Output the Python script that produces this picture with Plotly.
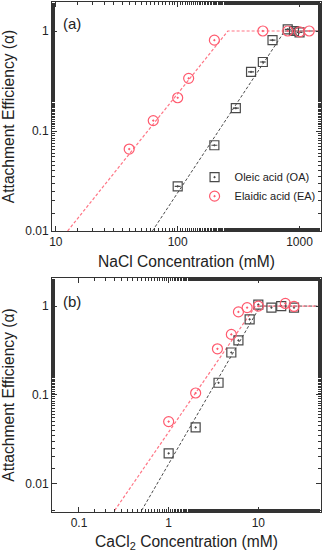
import numpy as np
import plotly.graph_objects as go
from plotly.subplots import make_subplots

# (a) NaCl
nacl_oa_x = [100, 200, 300, 400, 500, 600, 800, 900, 1000]
nacl_oa_y = [0.028, 0.072, 0.169, 0.39, 0.49, 0.81, 1.04, 1.0, 0.97]
nacl_oa_err = [0, 0, 0, 0, 0, 0, 0, 0.07, 0]
nacl_ea_x = [40, 63, 100, 123, 200, 500, 800, 1000, 1200]
nacl_ea_y = [0.066, 0.127, 0.215, 0.336, 0.81, 1.0, 1.0, 0.98, 1.0]

nacl_oa_fit_x = [62, 755, 1500]
nacl_oa_fit_y = [0.01, 1, 1]
nacl_ea_fit_x = [12.5, 258, 1500]
nacl_ea_fit_y = [0.01, 1, 1]

# (b) CaCl2
cacl_oa_x = [1, 2, 3.6, 5, 6, 8, 10, 14, 18, 25]
cacl_oa_y = [0.022, 0.043, 0.137, 0.30, 0.41, 0.71, 1.04, 0.96, 1.0, 0.96]
cacl_ea_x = [1, 2, 3.5, 5, 6, 7.5, 10, 20, 25]
cacl_ea_y = [0.05, 0.105, 0.33, 0.48, 0.86, 0.96, 1.0, 1.07, 0.99]

cacl_oa_fit_x = [0.5, 10.5, 50]
cacl_oa_fit_y = [0.005, 1, 1]
cacl_ea_fit_x = [0.25, 9.3, 50]
cacl_ea_fit_y = [0.005, 1, 1]

GRAY = '#4a4a4a'
RED = '#ff5a6e'
RED_LINE = '#ff7585'
FONT = 'Liberation Sans, Arial, sans-serif'

fig = make_subplots(rows=2, cols=1)

def add_panel(row, fx_oa, fy_oa, fx_ea, fy_ea, ox, oy, ex, ey, err=None, legend=False):
    fig.add_trace(go.Scatter(x=fx_oa, y=fy_oa, mode='lines', showlegend=False,
                             line=dict(color=GRAY, width=1, dash='3px,2px')), row=row, col=1)
    fig.add_trace(go.Scatter(x=fx_ea, y=fy_ea, mode='lines', showlegend=False,
                             line=dict(color=RED_LINE, width=1.2, dash='3px,2px')), row=row, col=1)
    oa = go.Scatter(x=ox, y=oy, mode='markers', name='Oleic acid (OA)', showlegend=legend,
                    marker=dict(symbol='square-open-dot', size=9, color=GRAY, line=dict(width=1.2)))
    if err is not None:
        oa.error_y = dict(type='data', array=err, color=GRAY, thickness=1.2, width=3)
    fig.add_trace(oa, row=row, col=1)
    fig.add_trace(go.Scatter(x=ex, y=ey, mode='markers', name='Elaidic acid (EA)', showlegend=legend,
                             marker=dict(symbol='circle-open-dot', size=10, color=RED, line=dict(width=1.2))),
                  row=row, col=1)

add_panel(1, nacl_oa_fit_x, nacl_oa_fit_y, nacl_ea_fit_x, nacl_ea_fit_y,
          nacl_oa_x, nacl_oa_y, nacl_ea_x, nacl_ea_y, err=nacl_oa_err, legend=True)
add_panel(2, cacl_oa_fit_x, cacl_oa_fit_y, cacl_ea_fit_x, cacl_ea_fit_y,
          cacl_oa_x, cacl_oa_y, cacl_ea_x, cacl_ea_y)

axis_style = dict(type='log', showline=True, linecolor='#333', linewidth=1, mirror='allticks',
                  ticks='inside', ticklen=5, tickcolor='#333', showgrid=False, zeroline=False,
                  automargin=False,
                  tickfont=dict(size=12, color='#222', family=FONT),
                  minor=dict(ticks='inside', ticklen=3, tickcolor='#333', showgrid=False))

fig.update_xaxes(**axis_style)
fig.update_yaxes(**axis_style)

title_font = dict(size=15.6, family=FONT, color='#222')

fig.update_xaxes(row=1, col=1, range=[np.log10(9.3), np.log10(1500)],
                 tickvals=[10, 100, 1000], ticktext=['10', '100', '1000'],
                 title=dict(text='NaCl Concentration (mM)', standoff=7, font=title_font))
fig.update_xaxes(row=2, col=1, range=[np.log10(0.05), np.log10(50)],
                 tickvals=[0.1, 1, 10], ticktext=['0.1', '1', '10'],
                 title=dict(text='CaCl<sub>2</sub> Concentration (mM)', standoff=6, font=title_font))
fig.update_yaxes(row=1, col=1, range=[-2, np.log10(1.95)], domain=[0.551, 1.0],
                 tickvals=[0.01, 0.1, 1], ticktext=['0.01', '0.1', '1'],
                 title=dict(text='Attachment Efficiency (α)', font=title_font))
fig.update_yaxes(row=2, col=1, range=[np.log10(0.0048), np.log10(2.07)], domain=[0, 0.4588],
                 tickvals=[0.01, 0.1, 1], ticktext=['0.01', '0.1', '1'],
                 title=dict(text='Attachment Efficiency (α)', font=title_font))

fig.add_annotation(text='(a)', xref='x domain', yref='y domain', x=0.035, y=0.905,
                   xanchor='left', yanchor='middle', showarrow=False,
                   font=dict(size=15, family=FONT, color='#222'))
fig.add_annotation(text='(b)', xref='x2 domain', yref='y2 domain', x=0.035, y=0.90,
                   xanchor='left', yanchor='middle', showarrow=False,
                   font=dict(size=15, family=FONT, color='#222'))

fig.update_layout(
    width=323, height=556,
    margin=dict(l=52, r=2, t=2, b=44, autoexpand=False),
    paper_bgcolor='white', plot_bgcolor='white',
    font=dict(family=FONT, color='#222'),
    legend=dict(x=0.53, y=0.685, xanchor='left', yanchor='top', bgcolor='rgba(0,0,0,0)',
                font=dict(size=11, family=FONT, color='#222'), tracegroupgap=0,
                itemwidth=30),
)

# the page body has an 8px margin by default; drop it so the figure sits at 0,0
fig.write_html("out.html", config={'displayModeBar': False},
               post_script="document.body.style.margin='0';")
